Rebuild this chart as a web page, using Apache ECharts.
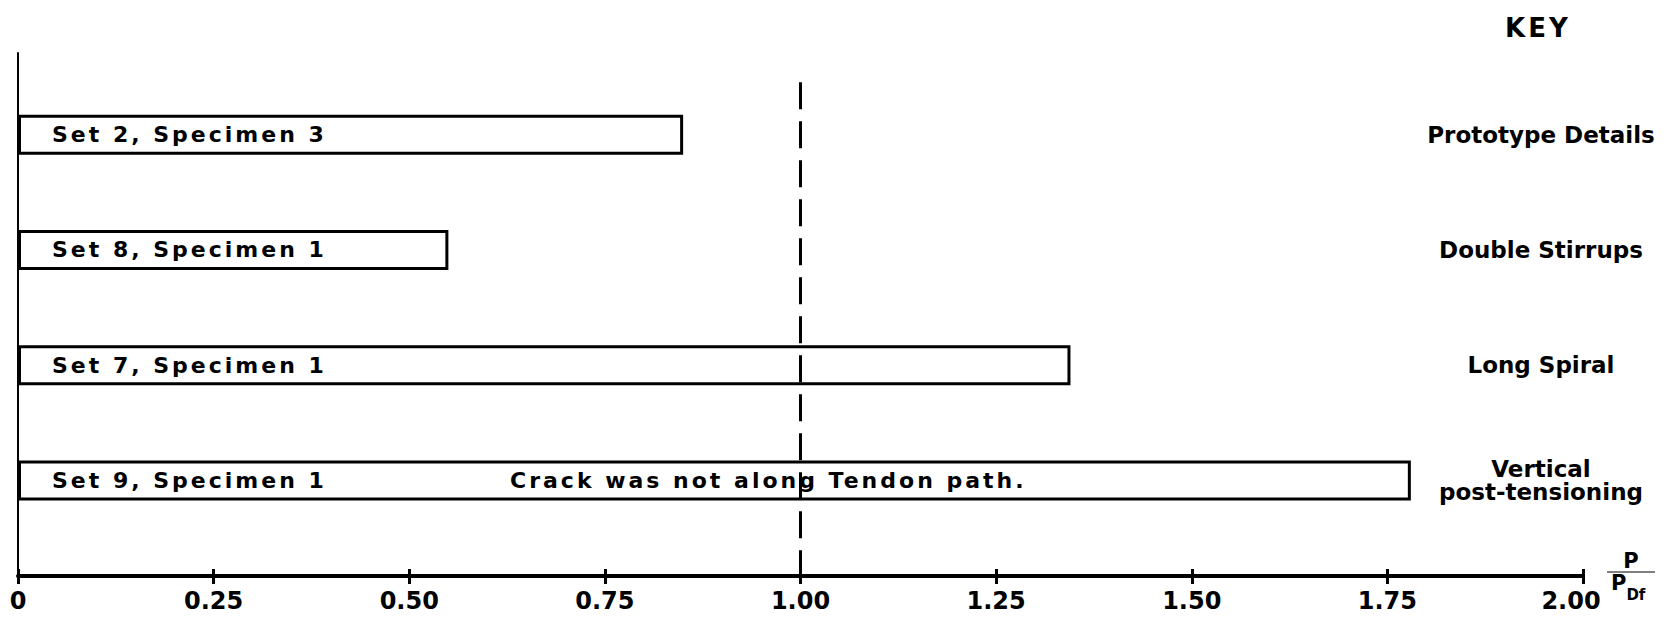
<!DOCTYPE html>
<html>
<head>
<meta charset="utf-8">
<script src="https://cdn.jsdelivr.net/npm/echarts@6/dist/echarts.min.js"></script>
<style>
  html, body { margin: 0; padding: 0; background: #fff; }
  #chart { width: 1674px; height: 619px; }
  /* hand-lettered look: open up the bar captions and the key heading */
  #chart text[style*="22px"] { letter-spacing: 3px; }
  #chart text[style*="26px"] { letter-spacing: 3px; }
</style>
</head>
<body>
<div id="chart"></div>
<script>
// Specimens (top to bottom) and their cracking load ratio P / P_Df
const specimens = ['Set 2, Specimen 3', 'Set 8, Specimen 1', 'Set 7, Specimen 1', 'Set 9, Specimen 1'];
const ratios = [0.85, 0.55, 1.345, 1.78];
const details = ['Prototype Details', 'Double Stirrups', 'Long Spiral', 'Vertical\npost-tensioning'];
const notes = ['', '', '', 'Crack was not along Tendon path.'];
const tickLabels = ['0', '0.25', '0.50', '0.75', '1.00', '1.25', '1.50', '1.75', '2.00'];
const referenceRatio = 1.0;

const FONT = 'DejaVu Sans';
const INK = '#000';
const bold = (size) => ({ fontFamily: FONT, fontWeight: 'bold', fontSize: size, color: INK });

const chart = echarts.init(document.getElementById('chart'), null, { renderer: 'svg' });

const option = {
  animation: false,
  backgroundColor: '#fff',
  title: {
    text: 'KEY',
    left: 1500,
    top: 10,
    textStyle: bold(26)
  },
  grid: [
    { left: 18, right: 91, top: 77, height: 461 },   // bars
    { left: 18, right: 91, top: 53, bottom: 43 }     // frame: axes + reference line
  ],
  xAxis: [
    {
      gridIndex: 0, type: 'value', min: 0, max: 2, interval: 0.25,
      offset: 38,
      axisLine: { show: false },
      axisTick: { show: true, length: 8, lineStyle: { color: INK, width: 3 } },
      axisLabel: { show: false },
      splitLine: { show: false }
    },
    {
      gridIndex: 1, type: 'value', min: 0, max: 2, interval: 0.25,
      axisLine: { lineStyle: { color: INK, width: 4 } },
      axisTick: { show: true, inside: true, length: 7, lineStyle: { color: INK, width: 3 } },
      axisLabel: {
        ...bold(24),
        margin: 13,
        showMinLabel: true,
        showMaxLabel: true,
        // the last label steps left to leave room for the axis fraction
        formatter: (v) => {
          const i = Math.round(v / 0.25);
          return i === tickLabels.length - 1 ? '{end|' + tickLabels[i] + '}' : tickLabels[i];
        },
        rich: { end: { ...bold(24), padding: [0, 24, 0, 0] } }
      },
      splitLine: { show: false },
      name: '{pc|P}\n{hr|}\n{p|P}{s|Df}',
      nameLocation: 'end',
      nameGap: 24,
      nameMoveOverlap: false,
      nameTextStyle: {
        align: 'left',
        verticalAlign: 'middle',
        rich: {
          pc: { ...bold(21), width: 48, align: 'center', lineHeight: 22 },
          hr: { width: 48, height: 0, borderColor: INK, borderWidth: 1.2 },
          p: { ...bold(21), lineHeight: 30, padding: [0, 0, 0, 4], verticalAlign: 'top' },
          s: { ...bold(15), lineHeight: 30, verticalAlign: 'bottom' }
        }
      }
    }
  ],
  yAxis: [
    {
      gridIndex: 0, type: 'category', data: specimens, inverse: true,
      axisLine: { show: false }, axisTick: { show: false }, axisLabel: { show: false },
      splitLine: { show: false }
    },
    {
      gridIndex: 0, type: 'category', data: details, inverse: true, position: 'right',
      axisLine: { show: false }, axisTick: { show: false },
      axisLabel: { ...bold(23), interval: 0, margin: -42, align: 'center', lineHeight: 23 },
      splitLine: { show: false }
    },
    {
      gridIndex: 1, type: 'value', min: 0, max: 1,
      axisLine: { show: true, lineStyle: { color: INK, width: 2 } },
      axisTick: { show: false }, axisLabel: { show: false },
      splitLine: { show: false }
    }
  ],
  series: [
    {
      type: 'bar',
      xAxisIndex: 0,
      yAxisIndex: 0,
      data: ratios,
      barWidth: 40,
      itemStyle: { color: '#fff', borderColor: INK, borderWidth: 3 },
      label: {
        show: true,
        position: 'insideLeft',
        distance: 34,
        ...bold(22),
        formatter: (p) => notes[p.dataIndex]
          ? '{a|' + p.name + '}{b|' + notes[p.dataIndex] + '}'
          : p.name,
        rich: {
          a: { ...bold(22), width: 458 },
          b: { ...bold(22) }
        }
      }
    },
    {
      type: 'line',
      xAxisIndex: 1,
      yAxisIndex: 2,
      data: [],
      markLine: {
        silent: true,
        symbol: 'none',
        label: { show: false },
        lineStyle: { color: INK, width: 3, type: [27, 12] },
        data: [[{ coord: [referenceRatio, 0.944] }, { coord: [referenceRatio, 0] }]]
      }
    }
  ]
};

chart.setOption(option);
</script>
</body>
</html>
